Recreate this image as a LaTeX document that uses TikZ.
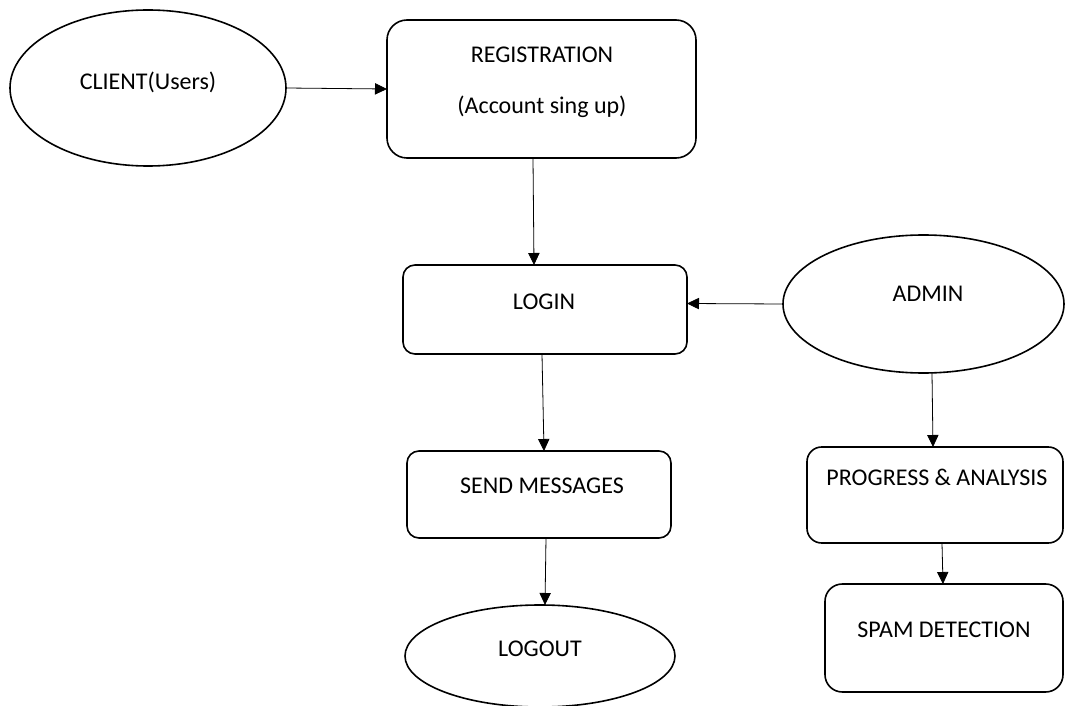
\documentclass[tikz,border=0pt]{standalone}
\usepackage{fontspec}
\setmainfont{Carlito}
\usetikzlibrary{shapes.geometric,arrows.meta,calc}
\begin{document}
\begin{tikzpicture}[x=0.75pt,y=-0.75pt,
  boxshape/.style={draw,line width=1.2pt,inner sep=0pt,outer sep=0pt,rectangle},
  ellshape/.style={draw,line width=1.2pt,inner sep=0pt,outer sep=0pt,ellipse},
  lbl/.style={inner sep=0pt,font=\fontsize{18}{22}\selectfont},
  arr/.style={line width=0.6pt,-{Triangle[length=9pt,width=8.5pt]}}]
\useasboundingbox (0,0) rectangle (1065,706);
% shapes
\node[ellshape,minimum width=276*0.75pt,minimum height=156*0.75pt] (client) at (148,88) {};
\node[boxshape,rounded corners=15pt,minimum width=309*0.75pt,minimum height=138*0.75pt] (reg) at (541.5,89) {};
\node[boxshape,rounded corners=9pt,minimum width=284*0.75pt,minimum height=89*0.75pt] (login) at (545,309.5) {};
\node[ellshape,minimum width=281*0.75pt,minimum height=138*0.75pt] (admin) at (923.5,304) {};
\node[boxshape,rounded corners=9pt,minimum width=264*0.75pt,minimum height=87*0.75pt] (send) at (539,494.5) {};
\node[ellshape,minimum width=270*0.75pt,minimum height=102*0.75pt] (logout) at (540,656) {};
\node[boxshape,rounded corners=11pt,minimum width=256*0.75pt,minimum height=96*0.75pt] (prog) at (935,495) {};
\node[boxshape,rounded corners=13pt,minimum width=238*0.75pt,minimum height=108*0.75pt] (spam) at (944,638) {};
% texts
\node[lbl] (tclient) at (148,82) {CLIENT(Users)};
\node[lbl] (treg) at (542,55) {REGISTRATION};
\node[lbl] (tacc) at (542,107) {(Account sing up)};
\node[lbl] (tlogin) at (544,302) {LOGIN};
\node[lbl] (tadmin) at (928,294) {ADMIN};
\node[lbl] (tsend) at (542,486) {SEND MESSAGES};
\node[lbl] (tlogout) at (540,649) {LOGOUT};
\node[lbl] (tprog) at (937,477) {PROGRESS \& ANALYSIS};
\node[lbl] (tspam) at (944,630) {SPAM DETECTION};
% connectors
\draw[arr] (client.east) -- (reg.west);
\draw[arr] ($(reg.south)+(-8.5,0)$) -- ($(login.north)+(-11,0)$);
\draw[arr] (admin.west) -- ($(login.east)+(0,-6)$);
\draw[arr] ($(login.south)+(-3,0)$) -- ($(send.north)+(5,0)$);
\draw[arr] ($(send.south)+(7,0)$) -- ($(logout.north)+(5,0)$);
\draw[arr] ($(admin.south)+(8.5,0)$) -- ($(prog.north)+(-2,0)$);
\draw[arr] ($(prog.south)+(7,0)$) -- ($(spam.north)+(-1,0)$);
\end{tikzpicture}
\end{document}
